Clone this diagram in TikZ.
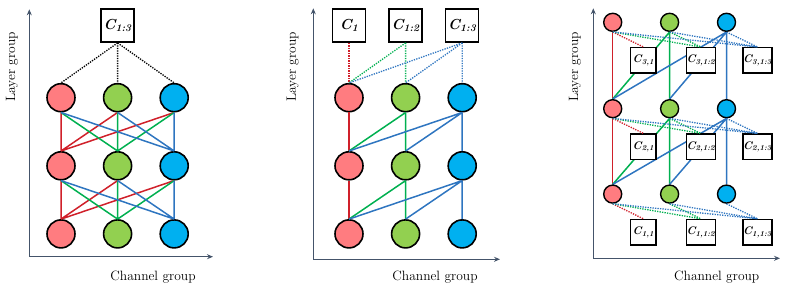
\documentclass[tikz,border=0pt]{standalone}
\usepackage{xcolor}
\usepackage{tikz}
\usetikzlibrary{positioning,arrows.meta,backgrounds}
\definecolor{crojo}{HTML}{FF7C80}
\definecolor{cverde}{HTML}{92D050}
\definecolor{ccielo}{HTML}{00B0F0}
\definecolor{lrojo}{HTML}{D0202A}
\definecolor{lverde}{HTML}{00B050}
\definecolor{lazul}{HTML}{2E75C0}
\definecolor{cejes}{HTML}{44546A}
\newcommand{\cgrupo}[1]{{\bfseries\itshape C\textsubscript{#1}}}
\tikzset{
  nodo/.style={circle, draw=black, line width=1.6pt, minimum size=28pt, inner sep=0pt},
  nodor/.style={nodo, fill=crojo},
  nodov/.style={nodo, fill=cverde},
  nodoz/.style={nodo, fill=ccielo},
  chico/.style={minimum size=18pt, line width=1.4pt},
  caja/.style={rectangle, draw=black, line width=1.5pt, fill=white,
    minimum size=33pt, inner sep=0pt, font=\fontsize{14.5}{16}\selectfont},
  cajita/.style={caja, minimum size=25.5pt, line width=1.4pt, font=\fontsize{11}{13}\selectfont},
  linea/.style={line width=1.5pt},
  punteo/.style={line width=1.3pt, dash pattern=on 1.3pt off 1.2pt},
  eje/.style={{Stealth[length=6pt,width=5pt]}-{Stealth[length=6pt,width=5pt]}, line width=1.3pt, draw=cejes},
  etq/.style={font=\fontsize{13.5}{16}\selectfont, text=black},
}
\begin{document}
\begin{tikzpicture}[x=1pt, y=1pt]
  \useasboundingbox (0,0) rectangle (789,292);

  % panel a: all to all
  \coordinate (ya) at (29.3,282.7);
  \coordinate (xa) at (213,35.3);
  \draw[eje] (ya) |- (xa);
  \node[etq, rotate=90] (lga) at (12,225) {Layer group};
  \node[etq] (cga) at (153,15) {Channel group};
  \node[nodor] (r3a) at (61,194.3) {};
  \node[nodov, right=27pt of r3a] (v3a) {};
  \node[nodoz, right=27pt of v3a] (z3a) {};
  \node[nodor, below=38.5pt of r3a] (r2a) {};
  \node[nodov, below=38.5pt of v3a] (v2a) {};
  \node[nodoz, below=38.5pt of z3a] (z2a) {};
  \node[nodor, below=38.5pt of r2a] (r1a) {};
  \node[nodov, below=38.5pt of v2a] (v1a) {};
  \node[nodoz, below=38.5pt of z2a] (z1a) {};
  \node[caja, above=40pt of v3a] (k1a) {\cgrupo{1:3}};
  \draw[punteo] (k1a.south) -- (r3a.north) (k1a.south) -- (v3a.north) (k1a.south) -- (z3a.north);
  \draw[linea, lrojo] (r3a.south) -- (r2a.north) (v3a.south) -- (r2a.north) (z3a.south) -- (r2a.north);
  \draw[linea, lverde] (r3a.south) -- (v2a.north) (v3a.south) -- (v2a.north) (z3a.south) -- (v2a.north);
  \draw[linea, lazul] (r3a.south) -- (z2a.north) (v3a.south) -- (z2a.north) (z3a.south) -- (z2a.north);
  \draw[linea, lrojo] (r2a.south) -- (r1a.north) (v2a.south) -- (r1a.north) (z2a.south) -- (r1a.north);
  \draw[linea, lverde] (r2a.south) -- (v1a.north) (v2a.south) -- (v1a.north) (z2a.south) -- (v1a.north);
  \draw[linea, lazul] (r2a.south) -- (z1a.north) (v2a.south) -- (z1a.north) (z2a.south) -- (z1a.north);

  % panel b: cumulative channel groups
  \coordinate (yb) at (313.3,283.7);
  \coordinate (xb) at (500,32.7);
  \draw[eje] (yb) |- (xb);
  \node[etq, rotate=90] (lgb) at (292.7,225) {Layer group};
  \node[etq] (cgb) at (435,15) {Channel group};
  \node[nodor] (r3b) at (349,194.3) {};
  \node[nodov, right=27pt of r3b] (v3b) {};
  \node[nodoz, right=27pt of v3b] (z3b) {};
  \node[nodor, below=38.5pt of r3b] (r2b) {};
  \node[nodov, below=38.5pt of v3b] (v2b) {};
  \node[nodoz, below=38.5pt of z3b] (z2b) {};
  \node[nodor, below=38.5pt of r2b] (r1b) {};
  \node[nodov, below=38.5pt of v2b] (v1b) {};
  \node[nodoz, below=38.5pt of z2b] (z1b) {};
  \node[caja, above=40pt of r3b] (k1b) {\cgrupo{1}};
  \node[caja, above=40pt of v3b] (k2b) {\cgrupo{1:2}};
  \node[caja, above=40pt of z3b] (k3b) {\cgrupo{1:3}};
  \draw[punteo, lrojo] (k1b.south) -- (r3b.north);
  \draw[punteo, lverde] (k2b.south) -- (r3b.north) (k2b.south) -- (v3b.north);
  \draw[punteo, lazul] (k3b.south) -- (r3b.north) (k3b.south) -- (v3b.north) (k3b.south) -- (z3b.north);
  \draw[linea, lrojo] (r2b.north) -- (r3b.south) (r1b.north) -- (r2b.south);
  \draw[linea, lverde] (r2b.north) -- (v3b.south) (v2b.north) -- (v3b.south)
    (r1b.north) -- (v2b.south) (v1b.north) -- (v2b.south);
  \draw[linea, lazul] (r2b.north) -- (z3b.south) (v2b.north) -- (z3b.south) (z2b.north) -- (z3b.south)
    (r1b.north) -- (z2b.south) (v1b.north) -- (z2b.south) (z1b.north) -- (z2b.south);

  % panel c: per layer and channel group
  \coordinate (yc) at (593.3,283.7);
  \coordinate (xc) at (780,33.7);
  \draw[eje] (yc) |- (xc);
  \node[etq, rotate=90] (lgc) at (575,225) {Layer group};
  \node[etq] (cgc) at (716.7,15) {Channel group};
  \node[nodor, chico] (r3c) at (612.7,269.7) {};
  \node[nodov, chico, right=37.5pt of r3c] (v3c) {};
  \node[nodoz, chico, right=37.5pt of v3c] (z3c) {};
  \node[nodor, chico, below=67pt of r3c] (r2c) {};
  \node[nodov, chico, below=67pt of v3c] (v2c) {};
  \node[nodoz, chico, below=67pt of z3c] (z2c) {};
  \node[nodor, chico, below=66pt of r2c] (r1c) {};
  \node[nodov, chico, below=66pt of v2c] (v1c) {};
  \node[nodoz, chico, below=66pt of z2c] (z1c) {};
  \node[cajita, below=15pt of r3c, xshift=30.7pt] (k31c) {\cgrupo{3,1}};
  \node[cajita, below=15pt of v3c, xshift=31.3pt] (k32c) {\cgrupo{3,1:2}};
  \node[cajita, below=15pt of z3c, xshift=31pt] (k33c) {\cgrupo{3,1:3}};
  \node[cajita, below=15pt of r2c, xshift=30.7pt] (k21c) {\cgrupo{2,1}};
  \node[cajita, below=15pt of v2c, xshift=31.3pt] (k22c) {\cgrupo{2,1:2}};
  \node[cajita, below=15pt of z2c, xshift=31pt] (k23c) {\cgrupo{2,1:3}};
  \node[cajita, below=15pt of r1c, xshift=30.7pt] (k11c) {\cgrupo{1,1}};
  \node[cajita, below=15pt of v1c, xshift=31.3pt] (k12c) {\cgrupo{1,1:2}};
  \node[cajita, below=15pt of z1c, xshift=31pt] (k13c) {\cgrupo{1,1:3}};
  \begin{scope}[on background layer]
    \draw[linea, lrojo] (r2c.north) -- (r3c.south) (r1c.north) -- (r2c.south);
    \draw[linea, lverde] (r2c.north) -- (v3c.south) (v2c.north) -- (v3c.south)
      (r1c.north) -- (v2c.south) (v1c.north) -- (v2c.south);
    \draw[linea, lazul] (r2c.north) -- (z3c.south) (v2c.north) -- (z3c.south) (z2c.north) -- (z3c.south)
      (r1c.north) -- (z2c.south) (v1c.north) -- (z2c.south) (z1c.north) -- (z2c.south);
  \end{scope}
  \draw[punteo, lrojo] (r3c.south) -- (k31c.north) (r2c.south) -- (k21c.north) (r1c.south) -- (k11c.north);
  \draw[punteo, lverde] (r3c.south) -- (k32c.north) (v3c.south) -- (k32c.north)
    (r2c.south) -- (k22c.north) (v2c.south) -- (k22c.north)
    (r1c.south) -- (k12c.north) (v1c.south) -- (k12c.north);
  \draw[punteo, lazul] (r3c.south) -- (k33c.north) (v3c.south) -- (k33c.north) (z3c.south) -- (k33c.north)
    (r2c.south) -- (k23c.north) (v2c.south) -- (k23c.north) (z2c.south) -- (k23c.north)
    (r1c.south) -- (k13c.north) (v1c.south) -- (k13c.north) (z1c.south) -- (k13c.north);
\end{tikzpicture}
\end{document}
